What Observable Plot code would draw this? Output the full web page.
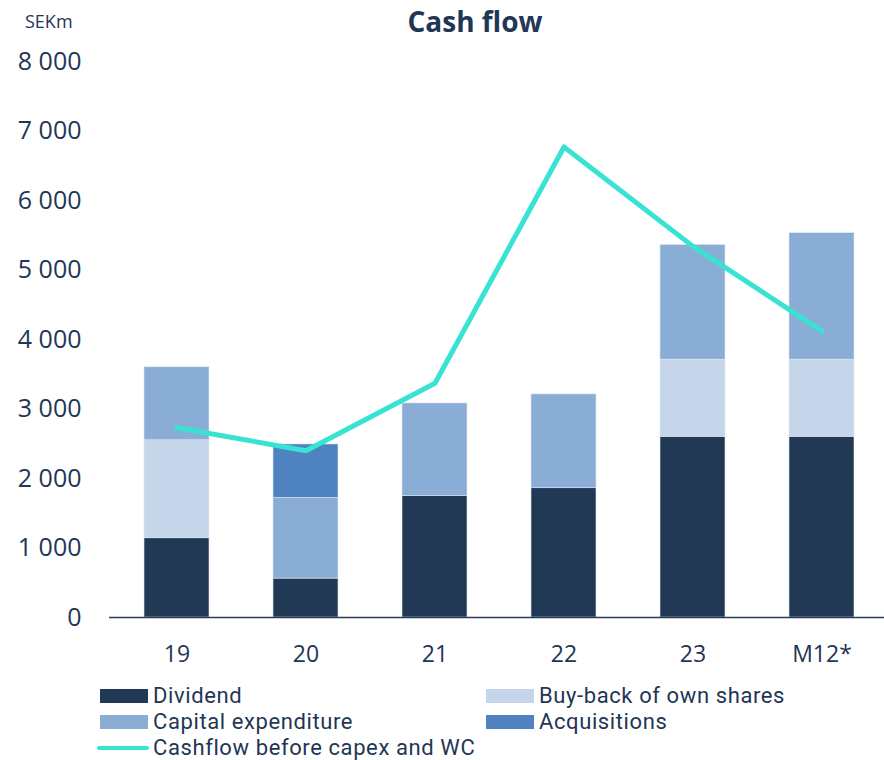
<!DOCTYPE html>
<html><head><meta charset="utf-8">
<script src="https://cdn.jsdelivr.net/npm/d3@7"></script>
<script src="https://cdn.jsdelivr.net/npm/@observablehq/plot@0.6"></script>
<style>
body{margin:0;background:#fff;font-family:"Open Sans",Roboto,sans-serif;color:#1f3655;}
#wrap{position:relative;width:884px;height:760px;}
#title{position:absolute;left:0;width:950px;top:7px;text-align:center;font-weight:700;font-size:28px;line-height:28px;color:#1f3655;}
#unit{position:absolute;left:25px;top:12px;font-size:18px;line-height:18px;color:#1f3655;}
#chart{position:absolute;left:0;top:0;}
.lg{position:absolute;font-family:Roboto,sans-serif;font-size:22px;line-height:22px;letter-spacing:0.6px;color:#1f3655;white-space:nowrap;}
.sw{position:absolute;width:48px;height:14px;}
.ln{position:absolute;width:52px;height:4px;border-radius:2px;}
</style></head><body>
<div id="wrap">
<div id="chart"></div>
<div id="title">Cash flow</div>
<div id="unit">SEKm</div>
<div id="legend"></div>
</div>
<script>
const categories = ["19","20","21","22","23","M12*"];
const seriesNames = ["Dividend","Buy-back of own shares","Capital expenditure","Acquisitions"];
const dividend = [1140, 560, 1750, 1860, 2600, 2600];
const buyback = [1410, 0, 0, 0, 1110, 1110];
const capex = [1050, 1160, 1330, 1350, 1650, 1820];
const acquisitions = [0, 770, 0, 0, 0, 0];
const cashflow = [2730, 2400, 3370, 6770, 5340, 4120];
const lineName = "Cashflow before capex and WC";
const yTicks = [0,1000,2000,3000,4000,5000,6000,7000,8000];
const colors = ["#213955","#c5d5ea","#8aadd5","#4f83bf"];
const lineColor = "#38e3d3";

const seriesValues = [dividend, buyback, capex, acquisitions];
const bars = [];
seriesNames.forEach((s, si) => categories.forEach((c, ci) => {
  if (seriesValues[si][ci] > 0) bars.push({cat: c, series: s, value: seriesValues[si][ci]});
}));
const lineData = categories.map((c, i) => ({cat: c, value: cashflow[i]}));
const fmt = d => d3.format(",")(d).replace(/,/g, " ");

const chart = Plot.plot({
  width: 884, height: 680,
  marginTop: 61, marginBottom: 63, marginLeft: 109, marginRight: 0,
  style: {fontFamily: "'Open Sans', Roboto, sans-serif", color: "#1f3655", background: "transparent"},
  x: {domain: categories, range: [109, 888], paddingInner: 0.5, paddingOuter: 0.25},
  y: {domain: [0, 8000]},
  color: {domain: seriesNames, range: colors},
  marks: [
    Plot.barY(bars, Plot.stackY({order: seriesNames}, {x: "cat", y: "value", fill: "series", stroke: "#dfe7f1", strokeWidth: 0.6})),
    Plot.ruleY([0], {stroke: "#2b3c55", strokeWidth: 1.5}),
    Plot.axisY({ticks: yTicks, tickFormat: fmt, tickSize: 0, tickPadding: 28, fontSize: 25, line: true, stroke: "#2b3c55", label: null}),
    Plot.axisX({tickSize: 0, tickPadding: 28, fontSize: 23, label: null}),
    Plot.lineY(lineData, {x: "cat", y: "value", stroke: lineColor, strokeWidth: 5, strokeLinecap: "round", strokeLinejoin: "round"})
  ]
});
document.getElementById("chart").appendChild(chart);

const legend = document.getElementById("legend");
const items = [
  {name: seriesNames[0], color: colors[0], x: 100, y: 689},
  {name: seriesNames[1], color: colors[1], x: 486, y: 689},
  {name: seriesNames[2], color: colors[2], x: 100, y: 715},
  {name: seriesNames[3], color: colors[3], x: 486, y: 715}
];
items.forEach(it => {
  const sw = document.createElement("div");
  sw.className = "sw"; sw.style.left = it.x + "px"; sw.style.top = it.y + "px"; sw.style.background = it.color;
  legend.appendChild(sw);
  const t = document.createElement("div");
  t.className = "lg"; t.style.left = (it.x + 53) + "px"; t.style.top = (it.y + 14 - 18.5) + "px"; t.textContent = it.name;
  legend.appendChild(t);
});
const ln = document.createElement("div");
ln.className = "ln"; ln.style.left = "97px"; ln.style.top = "746px"; ln.style.background = lineColor;
legend.appendChild(ln);
const lt = document.createElement("div");
lt.className = "lg"; lt.style.left = "153px"; lt.style.top = "736.5px"; lt.textContent = lineName;
legend.appendChild(lt);
</script>
</body></html>
